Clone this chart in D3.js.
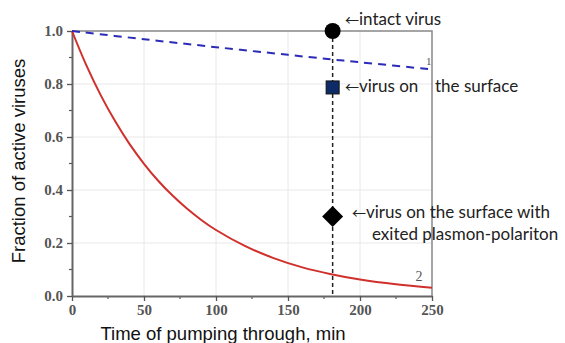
<!DOCTYPE html>
<meta charset="utf-8">
<style>
body { margin: 0; background: #fff; }
.tick text { font: bold 15px "Liberation Serif", serif; fill: #555; }
.grid line { stroke: #e8e8e8; stroke-width: 1px; }
.note { font: 17px Lato, sans-serif; fill: #222; }
.note .arr { font-family: "Noto Sans CJK JP", sans-serif; font-size: 14px; }
.axis-title { font: 18.5px "Liberation Sans", sans-serif; fill: #111; }
</style>
<body>
<script src="https://cdn.jsdelivr.net/npm/d3@7"></script>
<script>

// curve 1 (dashed blue)
var curve1T = [0, 50, 100, 150, 180, 200, 250];
var curve1Y = [1.0, 0.969, 0.939, 0.910, 0.893, 0.882, 0.855];

// curve 2 (red)
var curve2T = [0, 10, 20, 30, 40, 50, 60, 70, 80, 90, 100, 120, 140, 160, 180, 200, 225, 250];
var curve2Y = [1.0, 0.870, 0.757, 0.659, 0.573, 0.499, 0.434, 0.378, 0.329, 0.286, 0.249, 0.189, 0.143, 0.108, 0.082, 0.062, 0.044, 0.031];

// measured points at t = 181 min
var markT = 181;
var markKind = ["circle", "square", "diamond"];
var markY = [1.0, 0.787, 0.30];
// each note: list of [text, dx from note start, line]
var markText = [
  [["intact virus", 0, 0]],
  [["virus on", 0, 0], ["the surface", 76, 0]],
  [["virus on the surface with", 0, 0], ["exited plasmon-polariton", 5, 1]]
];

var xTicks = [0, 50, 100, 150, 200, 250];
var yTicks = [0.0, 0.2, 0.4, 0.6, 0.8, 1.0];

var W = 565, H = 343;
var margin = {top: 31, right: 133, bottom: 47, left: 72};

var svg = d3.select("body").append("svg")
    .attr("width", W)
    .attr("height", H);

var x = d3.scaleLinear().domain([0, 250]).range([margin.left, W - margin.right]);
var y = d3.scaleLinear().domain([0, 1]).range([H - margin.bottom, margin.top]);

// grid
var grid = svg.append("g").attr("class", "grid");
grid.selectAll("line.gx").data(xTicks.slice(1, -1)).enter().append("line")
    .attr("class", "gx")
    .attr("x1", d => x(d)).attr("x2", d => x(d))
    .attr("y1", y(0)).attr("y2", y(1));
grid.selectAll("line.gy").data(yTicks.slice(1, -1)).enter().append("line")
    .attr("class", "gy")
    .attr("x1", x(0)).attr("x2", x(250))
    .attr("y1", d => y(d)).attr("y2", d => y(d));

// frame top/right
svg.append("path")
    .attr("d", "M" + x(0) + "," + y(1) + "H" + x(250) + "V" + y(0))
    .attr("fill", "none").attr("stroke", "#888").attr("stroke-width", 1.5);

// minor ticks
var xMinor = d3.range(25, 250, 50), yMinor = d3.range(0.1, 1, 0.2);
svg.append("g").selectAll("line").data(xMinor).enter().append("line")
    .attr("x1", d => x(d)).attr("x2", d => x(d))
    .attr("y1", y(0)).attr("y2", y(0) + 3)
    .attr("stroke", "#555").attr("stroke-width", 1.2);
svg.append("g").selectAll("line").data(yMinor).enter().append("line")
    .attr("x1", x(0) - 3).attr("x2", x(0))
    .attr("y1", d => y(d)).attr("y2", d => y(d))
    .attr("stroke", "#555").attr("stroke-width", 1.2);

// axes
var xAxis = svg.append("g")
    .attr("transform", "translate(0," + y(0) + ")")
    .call(d3.axisBottom(x).tickValues(xTicks).tickFormat(d3.format("d")).tickSize(5).tickSizeOuter(0));
var yAxis = svg.append("g")
    .attr("transform", "translate(" + x(0) + ",0)")
    .call(d3.axisLeft(y).tickValues(yTicks).tickFormat(d3.format(".1f")).tickSize(5).tickSizeOuter(0));
[xAxis, yAxis].forEach(function(a) {
  a.select(".domain").attr("stroke", "#666").attr("stroke-width", 2);
  a.selectAll(".tick line").attr("stroke", "#555").attr("stroke-width", 1.3);
});
xAxis.selectAll(".tick text").attr("y", 19).attr("dy", 0);
yAxis.selectAll(".tick text").attr("x", -9);

// dashed vertical line at t = 181
svg.append("line")
    .attr("x1", x(markT)).attr("x2", x(markT))
    .attr("y1", y(1)).attr("y2", y(0))
    .attr("stroke", "#222").attr("stroke-width", 1.5)
    .attr("stroke-dasharray", "4,3");

var line = d3.line().curve(d3.curveCatmullRom);

svg.append("path")
    .attr("d", line(curve2T.map((t, i) => [x(t), y(curve2Y[i])])))
    .attr("fill", "none").attr("stroke", "#d0302c").attr("stroke-width", 2);

svg.append("path")
    .attr("d", line(curve1T.map((t, i) => [x(t), y(curve1Y[i])])))
    .attr("fill", "none").attr("stroke", "#2b2bb8").attr("stroke-width", 2)
    .attr("stroke-dasharray", "8,6");

// curve numbers
svg.append("text").attr("x", x(250) - 6).attr("y", y(0.87))
    .style("font", "11px 'Liberation Serif', serif").attr("fill", "#555").text("1");
svg.append("text").attr("x", x(240) - 2).attr("y", y(0.055))
    .style("font", "14px 'Liberation Serif', serif").attr("fill", "#555").text("2");

// markers
markKind.forEach(function(k, i) {
  var cx = x(markT), cy = y(markY[i]);
  if (k === "circle") {
    svg.append("circle").attr("cx", cx).attr("cy", cy).attr("r", 8).attr("fill", "#000");
  } else if (k === "square") {
    svg.append("rect").attr("x", cx - 6.5).attr("y", cy - 6.5).attr("width", 13).attr("height", 13)
        .attr("fill", "#0d2b66").attr("stroke", "#111").attr("stroke-width", 1);
  } else {
    svg.append("path").attr("transform", "translate(" + cx + "," + cy + ")")
        .attr("d", "M0,-10.5L10.5,0L0,10.5L-10.5,0Z").attr("fill", "#000");
  }
});

// marker notes: arrow then text
var noteX = [345, 345, 352], noteY = [25, 92, 218];
markText.forEach(function(parts, i) {
  var t = svg.append("text").attr("class", "note")
      .attr("x", noteX[i]).attr("y", noteY[i]);
  t.append("tspan").attr("class", "arr").text("\u2190");
  parts.forEach(function(p) {
    var sp = t.append("tspan").text(p[0]);
    if (p[1] > 0 && p[2] === 0) sp.attr("x", noteX[i] + 14 + p[1]);
    if (p[2] > 0) sp.attr("x", noteX[i] + 15 + p[1]).attr("y", noteY[i] + 22);
  });
});

// axis titles
svg.append("text").attr("class", "axis-title")
    .attr("text-anchor", "middle")
    .attr("transform", "translate(25,161) rotate(-90)")
    .text("Fraction of active viruses");
svg.append("text").attr("class", "axis-title")
    .attr("text-anchor", "middle")
    .attr("x", 223).attr("y", 340)
    .text("Time of pumping through, min");

</script>
</body>
